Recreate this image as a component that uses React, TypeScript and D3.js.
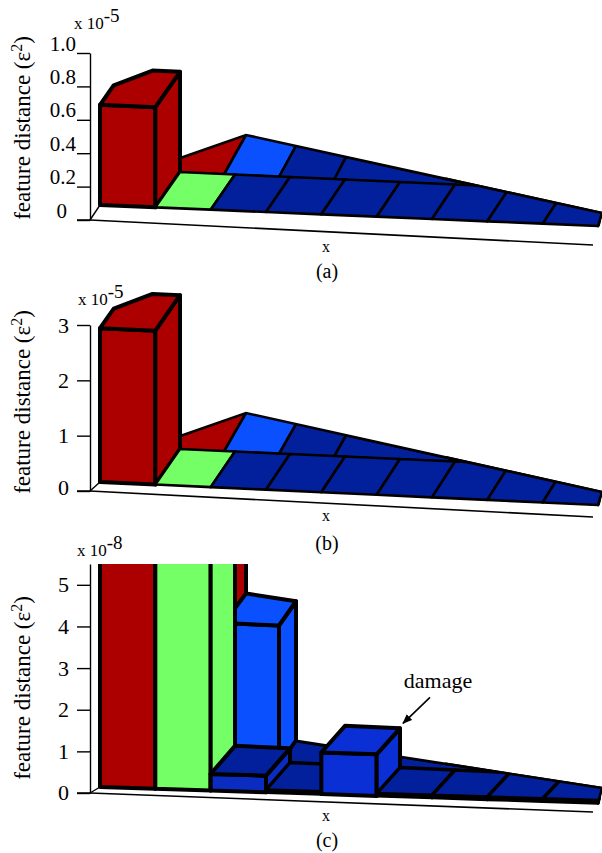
import React, { useEffect, useRef } from "react";
import * as d3 from "d3";

type Pt = [number, number];

const WIDTH = 602;
const HEIGHT = 853;
const SERIF = "'Liberation Serif', 'Times New Roman', serif";

// bar heights, in the units of each panel's own y axis
// front row has 9 cells, back row starts at cell 1 (cell 0 is hidden behind the red bar)
const frontA = [0.6, 0, 0, 0, 0, 0, 0, 0, 0];
const backA = [0, 0, 0];
const frontB = [2.78, 0, 0, 0, 0, 0, 0, 0, 0];
const backB = [0, 0, 0];
const frontC = [600, 60, 0.4, 0.06, 1.0, 0.06, 0.06, 0.06, 0.06];
const backC = [60, 3.35, 0];

const levelsFlatFront = ["peak", "second", "low", "low", "low", "low", "low", "low", "low"];
const levelsDamageFront = ["peak", "second", "low", "low", "damage", "low", "low", "low", "low"];
const levelsBack = ["peak", "third", "low"];

const ticksA = [0, 0.2, 0.4, 0.6, 0.8, 1.0];
const ticksB = [0, 1, 2, 3];
const ticksC = [0, 1, 2, 3, 4, 5];

const levelNames = ["peak", "second", "third", "damage", "low"];
const topColor = d3.scaleOrdinal<string, string>().domain(levelNames).range(["#ac0000", "#74ff66", "#0a50ff", "#0a2fd4", "#03209c"]);
const faceColor = d3.scaleOrdinal<string, string>().domain(levelNames).range(["#ac0000", "#74ff66", "#0a50ff", "#0a2fd4", "#0a2cc0"]);

const panels = [
  {
    id: "a", front: frontA, back: backA, frontLevels: levelsFlatFront, backLevels: levelsBack,
    ticks: ticksA, domainTop: 1, format: d3.format(".1f"), exp: "-5",
    y0: 220, yTop: 53, base: [205, 226], mid: [169.5, 192], rear: [163, 135, 213], floorEnd: 245,
    clipTop: 0, fontSize: 21, labelEnd: 76, labelDy: -3, zeroEnd: 67, zeroDy: -3,
    ylabelY: 128, expPos: [74, 29], xBase: 252, capBase: 278, caption: "(a)",
  },
  {
    id: "b", front: frontB, back: backB, frontLevels: levelsFlatFront, backLevels: levelsBack,
    ticks: ticksB, domainTop: 3, format: d3.format("d"), exp: "-5",
    y0: 491, yTop: 325, base: [482, 505], mid: [446.5, 469], rear: [441, 413, 492], floorEnd: 517,
    clipTop: 0, fontSize: 22, labelEnd: 69, labelDy: 7, zeroEnd: 69, zeroDy: 3,
    ylabelY: 402, expPos: [78, 305], xBase: 521, capBase: 550, caption: "(b)",
  },
  {
    id: "c", front: frontC, back: backC, frontLevels: levelsDamageFront, backLevels: levelsBack,
    ticks: ticksC, domainTop: 5.5, format: d3.format("d"), exp: "-8",
    y0: 793, yTop: 564, base: [787, 803], mid: [757.5, 780], rear: [745, 733, 788], floorEnd: 812,
    clipTop: 564, fontSize: 22, labelEnd: 69, labelDy: 7, zeroEnd: 69, zeroDy: 6,
    ylabelY: 688, expPos: [77, 556], xBase: 821, capBase: 847, caption: "(c)",
  },
];

const END_CELL = 9.12;
const xFront = d3.scaleLinear().domain([0, 9]).range([100, 598]);
const xMid = d3.scaleLinear().domain([0, 9]).range([125, 620]);
const xRear = d3.scaleLinear().domain([1, 2, END_CELL]).range([166, 246, 602]);
const REAR_SHIFT = -11;

const poly = (p: Pt[]) => p.map((d) => d.join(",")).join(" ");
const up = (p: Pt, h: number): Pt => [p[0], p[1] - h];
const lerp = (a: Pt, b: Pt, t: number): Pt => [a[0] + (b[0] - a[0]) * t, a[1] + (b[1] - a[1]) * t];

function Panel({ panel }: { panel: (typeof panels)[number] }) {
  const axisRef = useRef<SVGGElement>(null);
  const y = d3.scaleLinear().domain([0, panel.domainTop]).range([panel.y0, panel.yTop]);
  const unit = panel.y0 - y(1);
  const yFront = d3.scaleLinear().domain([0, 9]).range(panel.base);
  const yMid = d3.scaleLinear().domain([0, 9]).range(panel.mid);
  const yRear = d3.scaleLinear().domain([1, 2, END_CELL]).range(panel.rear);

  const front = (i: number): Pt => [xFront(i), yFront(i)];
  const mid = (i: number): Pt => [xMid(i), yMid(i)];
  const lower = (i: number): Pt => [xMid(i) + REAR_SHIFT, yMid(i)];
  const rear = (i: number): Pt => [xRear(i), yRear(i)];

  useEffect(() => {
    const g = d3.select(axisRef.current);
    g.selectAll("*").remove();
    g.call(
      d3.axisLeft(y).tickValues(panel.ticks).tickSize(13).tickSizeOuter(0).tickFormat((d) => (+d === 0 ? "0" : panel.format(+d)))
    );
    g.selectAll("path, line").attr("stroke", "#000").attr("stroke-width", 1.4);
    g.selectAll<SVGTextElement, number>("text")
      .attr("font-family", SERIF)
      .attr("font-size", panel.fontSize)
      .attr("fill", "#000")
      .attr("text-anchor", "end")
      .attr("x", (d) => (d === 0 ? panel.zeroEnd : panel.labelEnd) - 90)
      .attr("dy", (d) => (d === 0 ? panel.zeroDy : panel.labelDy));
  }, [panel]);

  const cell = (key: string, i: number, value: number, level: string, f: (i: number) => Pt, b: (i: number) => Pt) => {
    const h = value * unit;
    const f0 = f(i), f1 = f(i + 1), b0 = b(i), b1 = b(i + 1);
    const sw = h > 5 ? 4 : panel.id === "c" ? 3.4 : 2.6;
    let top: Pt[] = [up(f0, h), up(f1, h), up(b1, h), up(b0, h)];
    if (i === 0 && level === "peak") {
      // the tall bar has its rear left corner cut off
      top = [up(f0, h), up(f1, h), up(b1, h), lerp(up(b0, h), up(b1, h), 0.5), lerp(up(f0, h), up(b0, h), 0.55)];
    }
    // very low bars read as a black skirt under the cell
    const face = h < 5 ? "#000" : faceColor(level);
    const common = { stroke: "#000", strokeWidth: sw, strokeLinejoin: "round" as const };
    return (
      <g key={key} clipPath={h < 5 ? `url(#floor-${panel.id})` : undefined}>
        {h > 0 && <polygon points={poly([f0, f1, up(f1, h), up(f0, h)])} fill={face} {...common} />}
        {h > 0 && <polygon points={poly([f1, b1, up(b1, h), up(f1, h)])} fill={face} {...common} />}
        <polygon points={poly(top)} fill={topColor(level)} {...common} />
      </g>
    );
  };

  const rearLine = [1, 2, END_CELL].map(rear);
  const end9 = front(9);
  const floorClip: Pt[] = [
    [0, rear(1)[1]],
    ...rearLine,
    [end9[0] + 1.5, end9[1] + 3],
    [end9[0] + 1.5, panel.floorEnd + 10],
    [0, panel.floorEnd + 10],
  ];
  const origin: Pt = [90, panel.y0];

  // damage annotation points at the top rear corner of the damaged bar
  const damageIdx = panel.frontLevels.indexOf("damage");
  const damageTop = damageIdx >= 0 ? up(mid(damageIdx + 1), panel.front[damageIdx] * unit) : null;

  return (
    <g>
      <defs>
        <clipPath id={`floor-${panel.id}`}>
          <polygon points={poly(floorClip)} />
        </clipPath>
        <clipPath id={`top-${panel.id}`}>
          <rect x={0} y={panel.clipTop} width={WIDTH} height={HEIGHT} />
        </clipPath>
      </defs>

      {/* floor edges */}
      <polyline points={poly([[77, panel.y0], origin, [593, panel.floorEnd]])} fill="none" stroke="#000" strokeWidth={1.6} />
      <line x1={origin[0]} y1={origin[1]} x2={front(0)[0]} y2={front(0)[1]} stroke="#000" strokeWidth={1.4} />

      <g clipPath={`url(#top-${panel.id})`}>
        {/* back row, the long tail has no dividers */}
        <polygon
          points={poly([lower(4), lower(9), rear(END_CELL), rear(4)])}
          fill={topColor("low")}
          stroke="#000"
          strokeWidth={2.6}
          clipPath={`url(#floor-${panel.id})`}
        />
        <polyline points={poly(rearLine)} fill="none" stroke="#000" strokeWidth={2.6} />
        {panel.back.map((v, k) => cell(`b${k}`, k + 1, v, panel.backLevels[k], lower, rear))}
        {panel.front.map((v, i) => cell(`f${i}`, i, v, panel.frontLevels[i], front, mid))}
      </g>
      <polyline
        points={poly([rear(6), rear(END_CELL), end9])}
        fill="none"
        stroke="#000"
        strokeWidth={2.6}
        strokeLinecap="round"
        strokeLinejoin="round"
      />

      <g ref={axisRef} transform="translate(90,0)" />

      <text
        transform={`translate(30,${panel.ylabelY}) rotate(-90)`}
        textAnchor="middle"
        fontFamily={SERIF}
        fontSize={23}
      >
        feature distance (ε<tspan dy={-8} fontSize={16}>2</tspan><tspan dy={8}>)</tspan>
      </text>

      <text x={panel.expPos[0]} y={panel.expPos[1]} fontFamily={SERIF} fontSize={17}>
        x 10<tspan dy={-7} fontSize={19}>{panel.exp}</tspan>
      </text>

      <text x={326} y={panel.xBase} textAnchor="middle" fontFamily={SERIF} fontSize={16}>x</text>
      <text x={327} y={panel.capBase} textAnchor="middle" fontFamily={SERIF} fontSize={20}>{panel.caption}</text>

      {damageTop && (
        <g>
          <text x={damageTop[0] + 38} y={damageTop[1] - 40} textAnchor="middle" fontFamily={SERIF} fontSize={22}>damage</text>
          <line
            x1={damageTop[0] + 30}
            y1={damageTop[1] - 31}
            x2={damageTop[0] + 3}
            y2={damageTop[1] - 5}
            stroke="#000"
            strokeWidth={1.6}
            markerEnd="url(#arrowhead)"
          />
        </g>
      )}
    </g>
  );
}

export default function App() {
  return (
    <svg
      width={WIDTH}
      height={HEIGHT}
      viewBox={`0 0 ${WIDTH} ${HEIGHT}`}
      style={{ position: "absolute", left: 0, top: 0, display: "block", background: "#fff" }}
    >
      <defs>
        <marker id="arrowhead" viewBox="0 0 10 8" refX="9" refY="4" markerWidth="10" markerHeight="8" markerUnits="userSpaceOnUse" orient="auto">
          <path d="M0,0 L10,4 L0,8 Z" fill="#000" />
        </marker>
      </defs>
      {panels.map((p) => (
        <Panel key={p.id} panel={p} />
      ))}
    </svg>
  );
}
